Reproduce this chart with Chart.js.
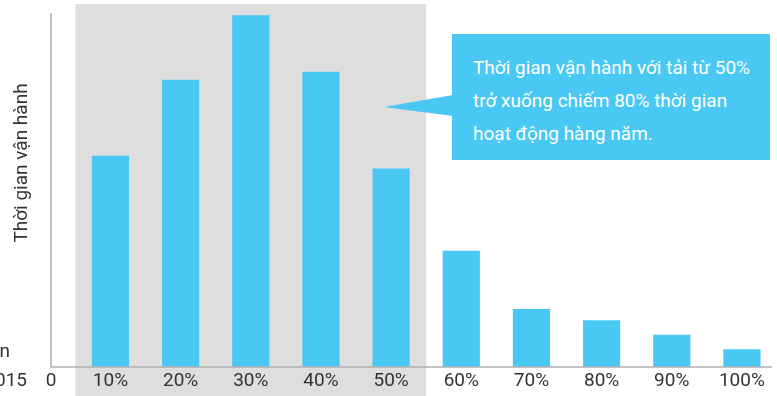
<!DOCTYPE html>
<html>
<head>
<meta charset="utf-8">
<script src="https://cdn.jsdelivr.net/npm/chart.js@4/dist/chart.umd.min.js"></script>
<style>
  body { margin: 0; background: #fff; }
  #wrap { position: relative; width: 777px; height: 396px; overflow: hidden; }
  .callout {
    position: absolute; left: 452px; top: 34px; width: 318px; height: 126px;
    background: #4ac8f4; color: #fff; box-sizing: border-box;
    padding: 17px 0 0 21px; font: 19px Roboto, sans-serif; line-height: 33px;
  }
  .pointer {
    position: absolute; left: 384px; top: 95px; width: 69px; height: 21px;
    background: #4ac8f4; clip-path: polygon(0 12px, 100% 0, 100% 100%);
  }
</style>
</head>
<body>
<div id="wrap">
  <canvas id="chart"></canvas>
  <div class="pointer"></div>
  <div class="callout">Thời gian vận hành với tải từ 50%<br>trở xuống chiếm 80% thời gian<br>hoạt động hàng năm.</div>
</div>
<script>
// load levels and share of yearly operating time
const categories = ['10%', '20%', '30%', '40%', '50%', '60%', '70%', '80%', '90%', '100%'];
const hours = [13.1, 17.8, 21.8, 18.3, 12.3, 7.2, 3.6, 2.9, 2.0, 1.1];
const yMax = 22.5;
const shadedCount = 5;   // 10%..50% sit on the grey band
const originLabel = '0';
const yTitle = 'Thời gian vận hành';
const cutLabels = ['n', '2015'];

const blue = '#4ac8f4';
const textColor = '#333';
const font = { family: 'Roboto', size: 19 };

const decor = {
  id: 'decor',
  beforeDraw(chart) {
    const { ctx, chartArea, scales: { x } } = chart;
    const half = (x.getPixelForValue(1) - x.getPixelForValue(0)) / 2;
    const left = x.getPixelForValue(0) - half;
    const right = x.getPixelForValue(shadedCount - 1) + half;
    ctx.save();
    ctx.fillStyle = '#dedede';
    ctx.fillRect(left, chartArea.top, right - left, chart.height - chartArea.top);
    ctx.restore();
  },
  afterDraw(chart) {
    const { ctx, chartArea } = chart;
    const axisX = chartArea.left - 24.4;
    const labelY = chartArea.bottom + 14;
    ctx.save();
    ctx.strokeStyle = '#b0b0b0';
    ctx.lineWidth = 1.5;
    ctx.beginPath();
    ctx.moveTo(axisX, chartArea.top + 9);
    ctx.lineTo(axisX, chartArea.bottom);
    ctx.lineTo(chartArea.right - 5, chartArea.bottom);
    ctx.stroke();
    ctx.fillStyle = textColor;
    ctx.font = '19px Roboto';
    ctx.textBaseline = 'middle';
    ctx.textAlign = 'center';
    ctx.fillText(originLabel, axisX, labelY);
    // y title, rotated, sitting a bit above the middle of the axis
    ctx.save();
    ctx.translate(22, chartArea.top + 159);
    ctx.rotate(-Math.PI / 2);
    ctx.fillText(yTitle, 0, 0);
    ctx.restore();
    ctx.textAlign = 'right';
    ctx.fillText(cutLabels[0], 10, chartArea.bottom - 15);
    ctx.fillText(cutLabels[1], 27, labelY);
    ctx.restore();
  }
};

new Chart(document.getElementById('chart'), {
  type: 'bar',
  data: {
    labels: categories,
    datasets: [{
      data: hours,
      backgroundColor: blue,
      barPercentage: 0.53,
      categoryPercentage: 1
    }]
  },
  options: {
    responsive: true,
    maintainAspectRatio: false,
    animation: false,
    layout: { padding: { top: 4, left: 0, right: 0, bottom: 0 } },
    plugins: { legend: { display: false }, tooltip: { enabled: false } },
    scales: {
      x: {
        grid: { display: false, drawTicks: false },
        border: { display: false },
        ticks: { color: textColor, font: font, padding: 3, maxRotation: 0, autoSkip: false },
        afterFit(s) { s.height = 29; }
      },
      y: {
        min: 0,
        max: yMax,
        grid: { display: false, drawTicks: false },
        border: { display: false },
        ticks: { display: false },
        afterFit(s) { s.width = 75.4; }
      }
    }
  },
  plugins: [decor]
});
</script>
</body>
</html>
